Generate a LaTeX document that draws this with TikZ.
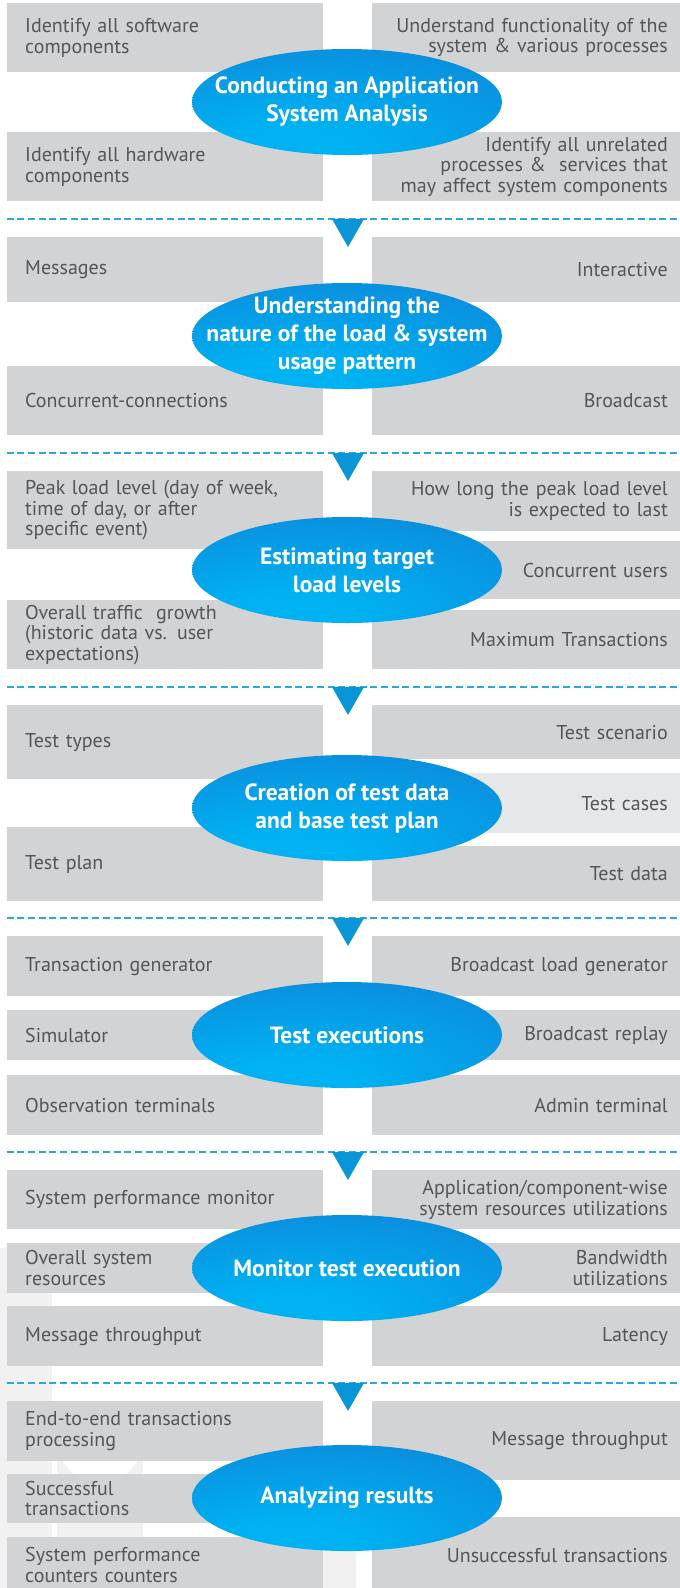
\documentclass[tikz,border=0pt]{standalone}
\usepackage{fontspec}
\setmainfont{PT Sans}
\usetikzlibrary{shapes.geometric, positioning}

\definecolor{boxgray}{HTML}{D1D3D4}
\definecolor{boxlight}{HTML}{E6E7E8}
\definecolor{boxtext}{HTML}{545557}
\definecolor{sepblue}{HTML}{2AA7E1}
\definecolor{triblue}{HTML}{0A95D6}
\definecolor{wmgray}{HTML}{F1F1F2}
\definecolor{elllight}{HTML}{00B2F2}
\definecolor{ellmid}{HTML}{0A8EDE}
\definecolor{elldark}{HTML}{006DC6}
\pgfdeclareradialshading{ellglow}{\pgfpoint{-10bp}{-24bp}}{color(0bp)=(elllight); color(10bp)=(elllight); color(42bp)=(ellmid); color(72bp)=(elldark); color(100bp)=(elldark)}

\begin{document}
\begin{tikzpicture}[x=1pt, y=-1pt,
  lbox/.style={rectangle, fill=boxgray, anchor=north west, minimum width=316.5pt, text width=279.5pt,
    inner xsep=18.5pt, inner ysep=0pt, align=left, text=boxtext, font=\fontsize{20}{20.5}\selectfont},
  rbox/.style={rectangle, fill=boxgray, anchor=north east, minimum width=308pt, text width=284pt,
    inner xsep=12pt, inner ysep=0pt, align=right, text=boxtext, font=\fontsize{20}{20.5}\selectfont},
  stage/.style={ellipse, shade, shading=ellglow, minimum width=310pt, minimum height=106pt, inner sep=0pt},
  stagetext/.style={align=center, text=white, inner sep=0pt, font=\bfseries\fontsize{23.5}{28}\selectfont},
  sepline/.style={sepblue, line width=1.3pt, dash pattern=on 7pt off 3.7pt},
  marker/.style={fill=triblue},
  wmark/.style={fill=wmgray}]

%%% BoundingBox 680 x 1588
\useasboundingbox (0,0) rectangle (680,1588);
\fill[white] (0,0) rectangle (680,1588);

%%% Wasserzeichen unten links
\fill[wmark] (0,1248) rectangle (52,1588);
\fill[wmark] (57,1588) -- (57,1440) arc[start angle=180, end angle=0, radius=43] -- (143,1588) -- cycle;
\fill[wmark] (290,1588) -- (290,1463) arc[start angle=180, end angle=0, radius=33] -- (356,1588) -- cycle;

%%% Abschnitt 1
\node[lbox, minimum height=69pt] (s1l1) at (6.5,3) {Identify all software\\components};
\node[rbox, minimum height=69pt] (s1r1) at (680,3) {Understand functionality of the\\system \& various processes};
\node[lbox, minimum height=69pt] (s1l2) at (6.5,132) {Identify all hardware\\components};
\node[rbox, minimum height=69pt] (s1r2) at (680,132) {Identify all unrelated\\processes \&\ \ services that\\may affect system components};

%%% Abschnitt 2
\node[lbox, minimum height=65pt] (s2l1) at (6.5,237) {Messages};
\node[rbox, minimum height=65pt] (s2r1) at (680,237) {Interactive};
\node[lbox, minimum height=69pt] (s2l2) at (6.5,366) {Concurrent-connections};
\node[rbox, minimum height=69pt] (s2r2) at (680,366) {Broadcast};

%%% Abschnitt 3
\node[lbox, minimum height=78pt] (s3l1) at (6.5,471) {Peak load level (day of week,\\time of day, or after\\specific event)};
\node[lbox, minimum height=69pt] (s3l2) at (6.5,600) {Overall traffic\ \ growth\\(historic data vs. user\\expectations)};
\node[rbox, minimum height=60pt] (s3r1) at (680,471) {How long the peak load level\\is expected to last};
\node[rbox, minimum height=58pt] (s3r2) at (680,541) {Concurrent users};
\node[rbox, minimum height=59pt] (s3r3) at (680,610) {Maximum Transactions};

%%% Abschnitt 4
\node[lbox, minimum height=74pt] (s4l1) at (6.5,705) {Test types};
\node[lbox, minimum height=74pt] (s4l2) at (6.5,827) {Test plan};
\node[rbox, minimum height=54pt] (s4r1) at (680,705) {Test scenario};
\node[rbox, minimum height=60pt, fill=boxlight] (s4r2) at (680,773) {Test cases};
\node[rbox, minimum height=55pt] (s4r3) at (680,846) {Test data};

%%% Abschnitt 5
\node[lbox, minimum height=60pt] (s5l1) at (6.5,936) {Transaction generator};
\node[lbox, minimum height=50pt] (s5l2) at (6.5,1010) {Simulator};
\node[lbox, minimum height=60pt] (s5l3) at (6.5,1075) {Observation terminals};
\node[rbox, minimum height=60pt] (s5r1) at (680,936) {Broadcast load generator};
\node[rbox, minimum height=50pt] (s5r2) at (680,1010) {Broadcast replay};
\node[rbox, minimum height=60pt] (s5r3) at (680,1075) {Admin terminal};

%%% Abschnitt 6
\node[lbox, minimum height=59pt] (s6l1) at (6.5,1170) {System performance monitor};
\node[lbox, minimum height=50pt] (s6l2) at (6.5,1243) {Overall system\\resources};
\node[lbox, minimum height=60pt] (s6l3) at (6.5,1306) {Message throughput};
\node[rbox, minimum height=59pt] (s6r1) at (680,1170) {Application/component-wise\\system resources utilizations};
\node[rbox, minimum height=50pt] (s6r2) at (680,1243) {Bandwidth\\utilizations};
\node[rbox, minimum height=60pt] (s6r3) at (680,1306) {Latency};

%%% Abschnitt 7
\node[lbox, minimum height=60pt] (s7l1) at (6.5,1401) {End-to-end transactions\\processing};
\node[lbox, minimum height=49pt] (s7l2) at (6.5,1474) {Successful\\transactions};
\node[lbox, minimum height=56pt] (s7l3) at (6.5,1537) {System performance\\counters counters};
\node[rbox, minimum height=79pt] (s7r1) at (680,1401) {Message throughput};
\node[rbox, minimum height=76pt] (s7r2) at (680,1517) {Unsuccessful transactions};

%%% Trennlinien mit Pfeilspitzen
\foreach \i/\yy in {1/219, 2/453, 3/687, 4/918, 5/1152, 6/1383} {
  \coordinate (d\i) at (6.5,\yy);
  \coordinate (e\i) at (680,\yy);
  \coordinate (t\i) at (348,\yy);
  \draw[sepline] (d\i) -- (e\i);
  \fill[marker] (t\i) ++(-16,0) -- ++(32,0) -- ++(-16,28) -- cycle;
}

%%% Ellipsen mit Beschriftung
\node[stage, label={[stagetext]center:Conducting an Application\\System Analysis}] (st1) at (347,102) {};
\node[stage, label={[stagetext]center:Understanding the\\nature of the load \& system\\usage pattern}] (st2) at (347,336) {};
\node[stage, label={[stagetext]center:Estimating target\\load levels}] (st3) at (347,570) {};
\node[stage, label={[stagetext]center:Creation of test data\\and base test plan}] (st4) at (347,808) {};
\node[stage, label={[stagetext]center:Test executions}] (st5) at (347,1035) {};
\node[stage, label={[stagetext]center:Monitor test execution}] (st6) at (347,1268) {};
\node[stage, label={[stagetext]center:Analyzing results}] (st7) at (347,1498) {};

\end{tikzpicture}
\end{document}
